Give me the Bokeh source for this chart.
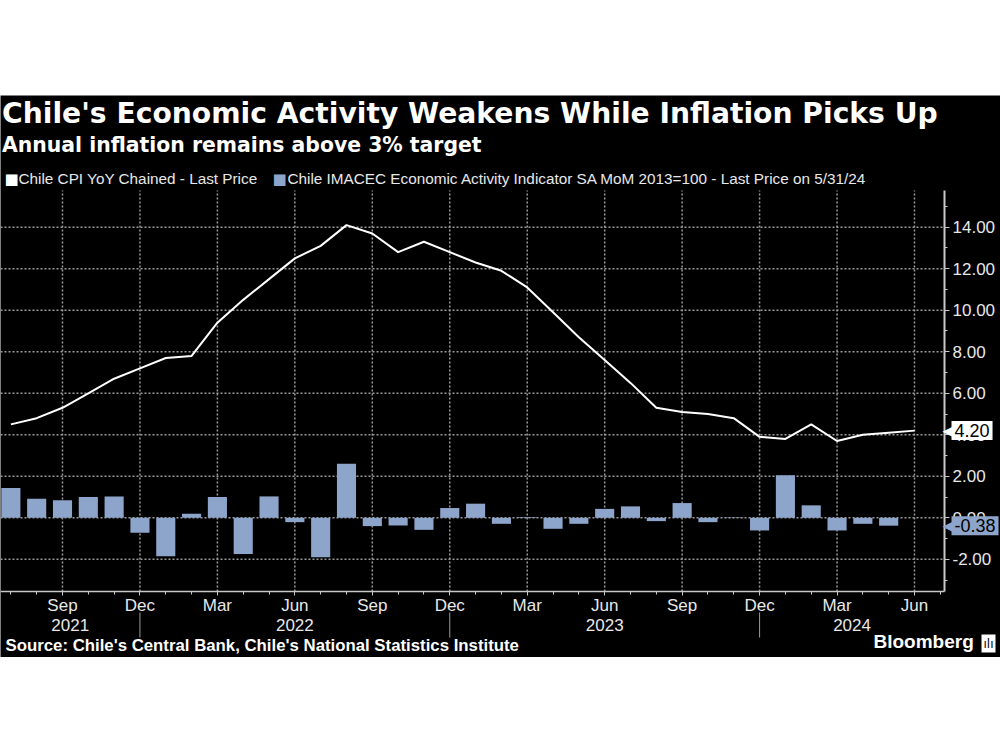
from bokeh.plotting import figure
from bokeh.models import (Range1d, FixedTicker, NumeralTickFormatter, Label, Arrow, Spacer,
                          LinearAxis)
from bokeh.layouts import column
from bokeh.embed import file_html
from bokeh.resources import INLINE

# ---------------- data ----------------
months = ["Jul 2021", "Aug 2021", "Sep 2021", "Oct 2021", "Nov 2021", "Dec 2021",
          "Jan 2022", "Feb 2022", "Mar 2022", "Apr 2022", "May 2022", "Jun 2022",
          "Jul 2022", "Aug 2022", "Sep 2022", "Oct 2022", "Nov 2022", "Dec 2022",
          "Jan 2023", "Feb 2023", "Mar 2023", "Apr 2023", "May 2023", "Jun 2023",
          "Jul 2023", "Aug 2023", "Sep 2023", "Oct 2023", "Nov 2023", "Dec 2023",
          "Jan 2024", "Feb 2024", "Mar 2024", "Apr 2024", "May 2024", "Jun 2024"]
cpi_yoy = [4.5, 4.8, 5.3, 6.0, 6.7, 7.2, 7.7, 7.8, 9.4, 10.5, 11.5, 12.5,
           13.1, 14.1, 13.7, 12.8, 13.3, 12.8, 12.3, 11.9, 11.1, 9.9, 8.7, 7.6,
           6.5, 5.3, 5.1, 5.0, 4.8, 3.9, 3.8, 4.5, 3.7, 4.0, 4.1, 4.2]
imacec_mom = [1.43, 0.92, 0.84, 1.00, 1.03, -0.72, -1.85, 0.19, 1.00, -1.74, 1.03, -0.21,
              -1.90, 2.61, -0.40, -0.37, -0.58, 0.47, 0.68, -0.29, 0.03, -0.53, -0.29, 0.43,
              0.55, -0.16, 0.71, -0.21, 0.02, -0.61, 2.05, 0.60, -0.61, -0.29, -0.38]
y_ticks = [-2, 0, 2, 4, 6, 8, 10, 12, 14]
y_minor = [-3, -1, 1, 3, 5, 7, 9, 11, 13, 15]
years = ["2021", "2022", "2023", "2024"]

title = "Chile's Economic Activity Weakens While Inflation Picks Up"
subtitle = "Annual inflation remains above 3% target"
legend_cpi = "Chile CPI YoY Chained - Last Price"
legend_imacec = "Chile IMACEC Economic Activity Indicator SA MoM 2013=100 - Last Price on 5/31/24"
source = "Source: Chile's Central Bank, Chile's National Statistics Institute"

# ---------------- geometry (page pixels) ----------------
W, TOP, BOT = 1000, 95, 657          # black panel on the page
PLOT_R, PLOT_T, PLOT_B = 944, 190, 591
SX, SY = 25.818, 20.756              # px per month / px per unit
X0_PX, Y0_PX = 10.36, 517.3          # page px of month index 0 / value 0

x_start = -X0_PX / SX
x_end = x_start + W / SX
y_end = (Y0_PX - TOP) / SY
y_start = (Y0_PX - BOT) / SY


def X(px):
    return (px - X0_PX) / SX


def Y(py):
    return (Y0_PX - py) / SY


idx_cpi = list(range(len(cpi_yoy)))
idx_bar = list(range(len(imacec_mom)))

BAR = "#8ea5cb"
GRID = "#9a9a9a"
AXIS = "#c8c8c8"
TXT = "#e8e8e8"
SANS = "Liberation Sans"
HEAD = "DejaVu Sans"

p = figure(width=W, height=BOT - TOP,
           x_range=Range1d(x_start, x_end), y_range=Range1d(y_start, y_end),
           x_axis_location=None, y_axis_location=None,
           output_backend="svg", toolbar_location=None,
           background_fill_color="black", border_fill_color="black",
           outline_line_color=None,
           min_border_left=0, min_border_right=0, min_border_top=0, min_border_bottom=0)
# the default full-frame grids are replaced by bounded dotted lines below
p.grid.visible = False

major_x = [i for i, m in enumerate(months) if m[:3] in ("Mar", "Jun", "Sep", "Dec")]
plot_left, plot_right = x_start, X(PLOT_R)
plot_bottom, plot_top = Y(PLOT_B), Y(PLOT_T)

# grid lines (dotted), bounded to the plotting area
p.segment(x0=major_x, y0=[plot_bottom] * len(major_x), x1=major_x, y1=[plot_top] * len(major_x),
          line_color=GRID, line_dash="2 2", line_width=1.5)
p.segment(x0=[plot_left] * len(y_ticks), y0=y_ticks, x1=[plot_right] * len(y_ticks), y1=y_ticks,
          line_color=GRID, line_dash="2 2", line_width=1.5)

# x axis
xa = LinearAxis(fixed_location=plot_bottom, bounds=(plot_left, plot_right))
xa.ticker = FixedTicker(ticks=major_x, minor_ticks=list(range(0, 37)))
xa.major_label_overrides = {i: months[i][:3] for i in major_x}
xa.axis_line_color = AXIS
xa.axis_line_width = 1.5
xa.major_tick_line_color = AXIS
xa.minor_tick_line_color = AXIS
xa.major_tick_in = 0
xa.major_tick_out = 4
xa.minor_tick_in = 0
xa.minor_tick_out = 3
xa.major_label_standoff = 0
xa.major_label_text_color = TXT
xa.major_label_text_font = SANS
xa.major_label_text_font_size = "17px"
p.add_layout(xa, "below")

# y axis (right)
ya = LinearAxis(fixed_location=plot_right, bounds=(plot_bottom, plot_top))
ya.ticker = FixedTicker(ticks=y_ticks, minor_ticks=y_minor)
ya.formatter = NumeralTickFormatter(format="0.00")
ya.axis_line_color = AXIS
ya.axis_line_width = 2
ya.major_tick_line_color = AXIS
ya.minor_tick_line_color = AXIS
ya.major_tick_in = 0
ya.major_tick_out = 5
ya.minor_tick_in = 0
ya.minor_tick_out = 3
ya.major_label_standoff = 3
ya.major_label_text_color = TXT
ya.major_label_text_font = SANS
ya.major_label_text_font_size = "17px"
p.add_layout(ya, "right")

# data
p.vbar(x=idx_bar, top=imacec_mom, bottom=0, width=0.74, fill_color=BAR, line_color=None)
p.line(x=idx_cpi, y=cpi_yoy, line_color="white", line_width=2)

# year separators and labels
dec_idx = [i for i, m in enumerate(months) if m.startswith("Dec")]
for i in dec_idx:
    p.add_layout(Arrow(x_start=i, y_start=Y(612), x_end=i, y_end=Y(637), end=None,
                       line_color="#9a9a9a", line_width=1))
bounds = [plot_left] + dec_idx + [plot_right]
for k, yr in enumerate(years):
    p.add_layout(Label(x=(bounds[k] + bounds[k + 1]) / 2, y=Y(624), text=yr,
                       text_align="center", text_baseline="middle",
                       text_color=TXT, text_font=SANS, text_font_size="17px"))

# titles
p.add_layout(Label(x=X(1.5), y=Y(113), text=title, text_baseline="middle",
                   text_color="white", text_font=HEAD, text_font_style="bold",
                   text_font_size="28.2px"))
p.add_layout(Label(x=X(1.5), y=Y(144.5), text=subtitle, text_baseline="middle",
                   text_color="white", text_font=HEAD, text_font_style="bold",
                   text_font_size="20.4px"))

# legend
p.add_layout(Label(x=X(4), y=Y(178), text="■", text_baseline="middle",
                   text_color="white", text_font="DejaVu Sans", text_font_size="15px"))
p.add_layout(Label(x=X(18), y=Y(178), text=legend_cpi, text_baseline="middle",
                   text_color=TXT, text_font=SANS, text_font_size="15.3px"))
p.add_layout(Label(x=X(272), y=Y(178), text="■", text_baseline="middle",
                   text_color=BAR, text_font="DejaVu Sans", text_font_size="15px"))
p.add_layout(Label(x=X(287), y=Y(178), text=legend_imacec, text_baseline="middle",
                   text_color=TXT, text_font=SANS, text_font_size="15.3px"))

# last value tags
for val, bg in ((cpi_yoy[-1], "white"), (imacec_mom[-1], BAR)):
    p.add_layout(Label(x=X(942), y=val, text="◀", text_baseline="middle",
                       text_color=bg, text_font="DejaVu Sans", text_font_size="16px"))
    p.add_layout(Label(x=X(951), y=val, text="%.2f" % val, text_baseline="middle",
                       text_color="black", text_font=SANS, text_font_size="18px",
                       background_fill_color=bg, padding=3))

# source and brand
p.add_layout(Label(x=X(5), y=Y(645), text=source, text_baseline="middle",
                   text_color="white", text_font=SANS, text_font_style="bold",
                   text_font_size="16.8px"))
p.add_layout(Label(x=X(873), y=Y(641), text="Bloomberg", text_baseline="middle",
                   text_color="white", text_font=SANS, text_font_style="bold",
                   text_font_size="19px"))
p.add_layout(Label(x=X(981), y=Y(643), text="ılı", text_baseline="middle",
                   text_color="black", text_font="DejaVu Sans", text_font_size="12px",
                   background_fill_color="white", padding=2))

layout = column(Spacer(width=W, height=TOP), p)
open("out.html", "w").write(file_html(layout, INLINE))
